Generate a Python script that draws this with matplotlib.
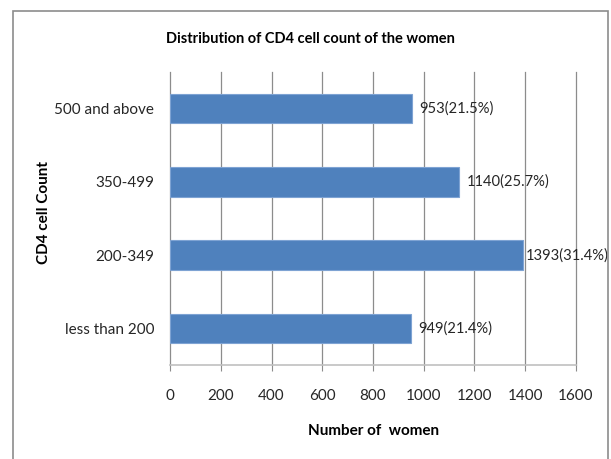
import matplotlib.pyplot as plt
from matplotlib.patches import Rectangle

categories = ["less than 200", "200-349", "350-499", "500 and above"]
counts = [949, 1393, 1140, 953]
labels = ["949(21.4%)", "1393(31.4%)", "1140(25.7%)", "953(21.5%)"]
xticks = [0, 200, 400, 600, 800, 1000, 1200, 1400, 1600]

plt.rcParams["font.family"] = ["Lato", "DejaVu Sans"]

W, H = 611, 459
fig = plt.figure(figsize=(W / 100, H / 100), dpi=100)
ax = fig.add_axes([170 / W, (H - 365) / H, 406 / W, 293 / H])

grid_col = "#8c8c8c"
ax.barh(range(len(categories)), counts, height=0.4, color="#4f81bd",
        edgecolor="#7ea3d3", linewidth=0.8, zorder=3)

for i, (v, lab) in enumerate(zip(counts, labels)):
    # the longest label gets pushed against the bar like in the original
    off = 2 if v > 1300 else 7
    ax.annotate(lab, xy=(v, i), xytext=(off, 0), textcoords="offset pixels",
                va="center", ha="left", fontsize=10.6, color="#262626",
                annotation_clip=False)

ax.set_xlim(0, 1600)
ax.set_ylim(-0.5, len(categories) - 0.5)
ax.set_xticks(xticks)
ax.set_xticklabels([str(t) for t in xticks], fontsize=11, color="#262626")
ax.set_yticks(range(len(categories)))
ax.set_yticklabels(categories, fontsize=11, color="#262626")
ax.tick_params(axis="y", length=0, pad=11.5)
ax.tick_params(axis="x", length=4.3, color=grid_col, pad=13, direction="out")

ax.grid(axis="x", color=grid_col, linewidth=0.9, zorder=0)
for line in ax.get_xgridlines():
    line.set_clip_on(False)
for s in ["top", "right", "left"]:
    ax.spines[s].set_visible(False)
ax.spines["bottom"].set_color("#c0c0c0")
ax.spines["bottom"].set_linewidth(1.2)

fig.text(310 / W, 1 - 39 / H, "Distribution of CD4 cell count of the women",
         ha="center", va="center", fontsize=10.5, fontweight="bold")
fig.text(374 / W, 1 - 431 / H, "Number of  women", ha="center", va="center",
         fontsize=11, fontweight="bold")
fig.text(44 / W, 1 - 212 / H, "CD4 cell Count", ha="center", va="center",
         rotation=90, fontsize=11, fontweight="bold")

fig.patches.append(Rectangle((13 / W, -0.05), 595 / W, 1.05 - 11 / H,
                             transform=fig.transFigure, fill=False,
                             edgecolor="#8c8c8c", linewidth=1.2))

fig.savefig("out.png", dpi=100)
